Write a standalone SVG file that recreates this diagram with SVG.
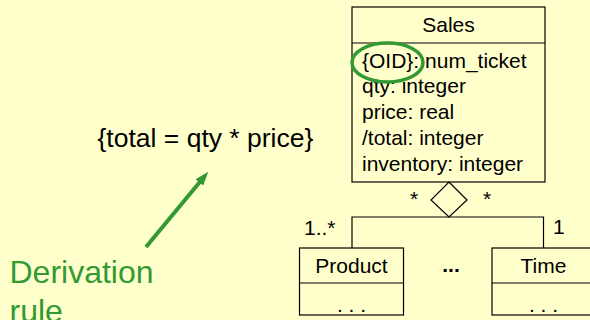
<svg xmlns="http://www.w3.org/2000/svg" width="590" height="320" viewBox="0 0 590 320">
  <style>
    text { font-family: "Liberation Sans", Arial, sans-serif; fill: #000; }
    .f21 { font-size: 21px; }
    .mid { text-anchor: middle; }
    .box { fill: none; stroke: #000; stroke-width: 1.2; }
    .wire { fill: none; stroke: #000; stroke-width: 1.2; }
    .green { fill: #339933; }
  </style>
  <defs>
    <marker id="arrowhead" markerUnits="userSpaceOnUse" markerWidth="14" markerHeight="10" refX="4" refY="5" orient="auto">
      <path d="M0,0 L14,5 L0,10 z" fill="#339933"/>
    </marker>
  </defs>

  <rect width="590" height="320" fill="#FFFFCC"/>

  <!-- Sales class -->
  <g id="sales">
    <rect class="box" x="352" y="7" width="193" height="175"/>
    <line class="box" x1="352" y1="43" x2="545" y2="43"/>
    <text class="f21 mid" x="448.5" y="32">Sales</text>
    <text class="f21" x="362" y="68">{OID}: num_ticket</text>
    <text class="f21" x="362" y="93">qty: integer</text>
    <text class="f21" x="362" y="119">price: real</text>
    <text class="f21" x="362" y="145">/total: integer</text>
    <text class="f21" x="362" y="171">inventory: integer</text>
    <ellipse cx="387.5" cy="62.5" rx="35.5" ry="19.5" fill="none" stroke="#339933" stroke-width="3.5"/>
  </g>

  <!-- Product class -->
  <g id="product">
    <rect class="box" x="299.5" y="248" width="104" height="67"/>
    <line class="box" x1="299.5" y1="283" x2="403.5" y2="283"/>
    <text class="f21 mid" x="351.5" y="273">Product</text>
    <text class="f21 mid" x="351.5" y="312">. . .</text>
  </g>

  <!-- Time class -->
  <g id="time">
    <rect class="box" x="492" y="248" width="104" height="67"/>
    <line class="box" x1="492" y1="283" x2="596" y2="283"/>
    <text class="f21 mid" x="543.5" y="273">Time</text>
    <text class="f21 mid" x="543.5" y="312">. . .</text>
  </g>

  <!-- further dimensions -->
  <g id="more">
    <text class="f21 mid" x="451" y="272" font-weight="bold">...</text>
  </g>

  <!-- derivation constraint -->
  <g id="constraint">
    <text x="97.5" y="147" font-size="26.5">{total = qty * price}</text>
  </g>

  <!-- note label -->
  <g id="note">
    <text class="green" x="9.5" y="283" font-size="32">Derivation</text>
    <text class="green" x="9.5" y="322" font-size="32">rule</text>
  </g>

  <!-- connectors -->
  <g id="connectors">
    <path class="wire" d="M449,182 L467,200 L449,217 L431,200 z"/>
    <path class="wire" d="M352,248 V217 H543.5 V248"/>
    <text class="f21 mid" x="414" y="206">*</text>
    <text class="f21 mid" x="487" y="206">*</text>
    <text class="f21" x="304" y="235">1..*</text>
    <text class="f21" x="553" y="234">1</text>
    <line x1="146" y1="247" x2="201.9" y2="179.4" stroke="#339933" stroke-width="4" marker-end="url(#arrowhead)"/>
  </g>
</svg>
